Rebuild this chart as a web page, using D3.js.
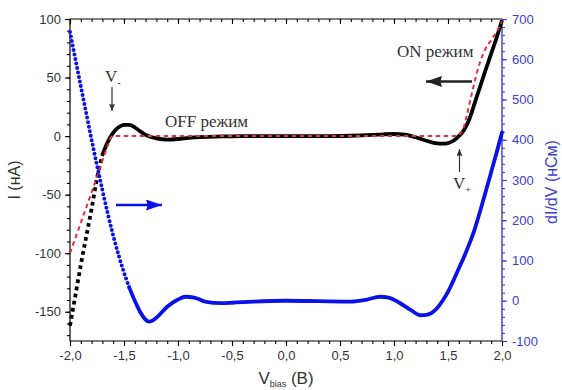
<!DOCTYPE html>
<html><head><meta charset="utf-8">
<script src="https://cdn.jsdelivr.net/npm/d3@7"></script>
<style>body{margin:0;background:#fff}svg{display:block}</style>
</head><body>
<script>
// ---- data ----
const biasV = [-2.0,-1.95,-1.9,-1.85,-1.8,-1.75,-1.7,-1.65,-1.6,-1.55,-1.5,-1.45,-1.4,-1.35,-1.3,-1.2,-1.1,-1.0,-0.9,-0.8,-0.6,-0.4,0,0.4,0.6,0.8,0.9,1.0,1.1,1.2,1.3,1.4,1.45,1.5,1.55,1.6,1.65,1.7,1.75,1.8,1.85,1.9,1.95,2.0];
const currentI = [-162,-136,-110,-86,-62,-36,-16,-5,3,7.5,9.5,9.5,7.5,4,1,-2,-3,-2.5,-1.5,-0.8,-0.3,0,0,0,0.3,1,1.5,1.8,1.2,-1,-4,-6.3,-6.5,-6,-4,0,5.5,15,29,43,57,70.5,84,99];

const idealV = [-2.0,-1.9,-1.8,-1.7,-1.65,-1.62,-1.6,0,1.58,1.61,1.64,1.67,1.7,1.735,1.77,1.8,1.85,1.9,1.95,2.0];
const idealI = [-100,-74,-48,-21,-8,-1,0,0,0,1.5,6,16,28,42,55,64,75,82,89,98];

const condV = [-2.0,-1.95,-1.9,-1.85,-1.8,-1.75,-1.7,-1.65,-1.6,-1.55,-1.5,-1.45,-1.4,-1.35,-1.3,-1.27,-1.25,-1.2,-1.1,-1.0,-0.93,-0.85,-0.75,-0.6,-0.5,-0.3,0,0.3,0.6,0.75,0.87,0.95,1.05,1.15,1.25,1.3,1.35,1.4,1.45,1.5,1.55,1.6,1.65,1.7,1.75,1.8,1.85,1.9,1.95,2.0];
const condG = [668,600,533,466,400,336,275,216,162,113,70,32,0,-28,-47,-52,-51,-42,-15,3,10,8,-2,-6,-5,-2,0,-1,-2,3,10,8,-5,-22,-36,-35,-30,-18,0,22,50,80,110,143,180,225,272,320,368,418];

const xTicks = [-2,-1.5,-1,-0.5,0,0.5,1,1.5,2];
const yLeftTicks = [-150,-100,-50,0,50,100];
const yRightTicks = [-100,0,100,200,300,400,500,600,700];

// ---- layout ----
const W = 562, H = 390;
const L = 70, R = 502, T = 19, B = 341;
const svg = d3.select("body").append("svg").attr("width", W).attr("height", H);

const x = d3.scaleLinear().domain([-2, 2]).range([L, R]);
const yL = d3.scaleLinear().domain([-175, 100]).range([B, T]);
const yR = d3.scaleLinear().domain([-100, 700]).range([B, T]);

const fmtX = d => (d < 0 ? "-" : "") + Math.abs(d).toFixed(1).replace(".", ",");
const fmtY = d => (d < 0 ? "-" : "") + Math.abs(d);
const font = "Liberation Sans, Arial, sans-serif";
const textCol = "#333";
const axisBlue = "#3b3bd0";
const dataBlue = "#0b12e8";

function styleAxis(g, col) {
  g.select(".domain").remove();
  g.selectAll("line").attr("stroke", col).attr("stroke-width", 1.1);
  g.selectAll("text").attr("font-family", font).attr("font-size", 13).attr("fill", col === "#000" ? textCol : col);
}
const minorX = d3.range(-2, 2.0001, 0.1).map(v => +v.toFixed(2));
// bottom
svg.append("g").attr("transform", `translate(0,${B})`)
  .call(d3.axisBottom(x).tickValues(minorX).tickSize(3).tickFormat(""))
  .call(g => styleAxis(g, "#000"));
svg.append("g").attr("transform", `translate(0,${B})`)
  .call(d3.axisBottom(x).tickValues(xTicks).tickSize(5).tickPadding(5).tickFormat(fmtX))
  .call(g => styleAxis(g, "#000"));
// top (inward)
svg.append("g").attr("transform", `translate(0,${T})`)
  .call(d3.axisBottom(x).tickValues(minorX).tickSize(3).tickFormat(""))
  .call(g => styleAxis(g, "#000"));
svg.append("g").attr("transform", `translate(0,${T})`)
  .call(d3.axisBottom(x).tickValues(xTicks).tickSize(5).tickFormat(""))
  .call(g => styleAxis(g, "#000"));
// left
const minorL = d3.range(-170, 101, 10);
svg.append("g").attr("transform", `translate(${L},0)`)
  .call(d3.axisLeft(yL).tickValues(minorL).tickSize(3).tickFormat(""))
  .call(g => styleAxis(g, "#000"));
svg.append("g").attr("transform", `translate(${L},0)`)
  .call(d3.axisLeft(yL).tickValues(yLeftTicks).tickSize(5).tickPadding(4).tickFormat(fmtY))
  .call(g => styleAxis(g, "#000"));
// right
const minorR = d3.range(-100, 701, 20);
svg.append("g").attr("transform", `translate(${R},0)`)
  .call(d3.axisRight(yR).tickValues(minorR).tickSize(3).tickFormat(""))
  .call(g => styleAxis(g, axisBlue));
svg.append("g").attr("transform", `translate(${R},0)`)
  .call(d3.axisRight(yR).tickValues(yRightTicks).tickSize(5).tickPadding(5).tickFormat(fmtY))
  .call(g => styleAxis(g, axisBlue));

// frame lines
svg.append("line").attr("x1", L).attr("x2", R).attr("y1", B).attr("y2", B).attr("stroke", "#000").attr("stroke-width", 1.2);
svg.append("line").attr("x1", L).attr("x2", R).attr("y1", T).attr("y2", T).attr("stroke", "#000").attr("stroke-width", 1.2);
svg.append("line").attr("x1", L).attr("x2", L).attr("y1", T).attr("y2", B).attr("stroke", "#000").attr("stroke-width", 1.2);
svg.append("line").attr("x1", R).attr("x2", R).attr("y1", T).attr("y2", B).attr("stroke", axisBlue).attr("stroke-width", 1.4);

// ---- data lines ----
const plot = svg.append("g");
const blackPts = biasV.map((v, i) => [v, currentI[i]]);
const redPts = idealV.map((v, i) => [v, idealI[i]]);
const bluePts = condV.map((v, i) => [v, condG[i]]);
const lineL = d3.line().x(d => x(d[0])).y(d => yL(d[1])).curve(d3.curveMonotoneX);
const lineR = d3.line().x(d => x(d[0])).y(d => yR(d[1])).curve(d3.curveMonotoneX);

// black: dotted squares on steep left part, solid elsewhere
plot.append("path").datum(blackPts.filter(d => d[0] <= -1.7))
  .attr("d", lineL).attr("fill", "none").attr("stroke", "#000")
  .attr("stroke-width", 3.8).attr("stroke-dasharray", "3.8,3.4");
plot.append("path").datum(blackPts.filter(d => d[0] >= -1.7))
  .attr("d", lineL).attr("fill", "none").attr("stroke", "#000")
  .attr("stroke-width", 3.8).attr("stroke-linejoin", "round");
// red ideal dashed
plot.append("path").datum(redPts)
  .attr("d", lineL).attr("fill", "none").attr("stroke", "#e0303a")
  .attr("stroke-width", 2).attr("stroke-dasharray", "4.5,3.5");
// blue
plot.append("path").datum(bluePts.filter(d => d[0] <= -1.45))
  .attr("d", lineR).attr("fill", "none").attr("stroke", dataBlue)
  .attr("stroke-width", 4).attr("stroke-linecap", "round").attr("stroke-dasharray", "0,4.6");
plot.append("path").datum(bluePts.filter(d => d[0] >= -1.45))
  .attr("d", lineR).attr("fill", "none").attr("stroke", dataBlue)
  .attr("stroke-width", 3.8).attr("stroke-linejoin", "round").attr("stroke-linecap", "round");

// ---- arrows ----
const defs = svg.append("defs");
function marker(id, col, w, h) {
  defs.append("marker").attr("id", id).attr("viewBox", `0 0 ${w} ${h}`)
    .attr("refX", w).attr("refY", h / 2).attr("markerWidth", w).attr("markerHeight", h)
    .attr("markerUnits", "userSpaceOnUse").attr("orient", "auto")
    .append("path").attr("d", `M0,0L${w},${h / 2}L0,${h}L${w * 0.1},${h / 2}Z`).attr("fill", col);
}
marker("headBlack", "#222", 16, 11);
marker("headBlue", dataBlue, 16, 11);
marker("headThin", "#333", 7, 6);

function arrow(x1, y1, x2, y2, col, sw, m) {
  svg.append("line").attr("x1", x1).attr("y1", y1).attr("x2", x2).attr("y2", y2)
    .attr("stroke", col).attr("stroke-width", sw).attr("marker-end", `url(#${m})`);
}
arrow(472, 81.5, 426, 81.5, "#222", 2.6, "headBlack");
arrow(116, 205, 162, 205, dataBlue, 2.6, "headBlue");
arrow(112, 87, 112, 111, "#333", 1.2, "headThin");
arrow(459.5, 172, 459.5, 149, "#333", 1.2, "headThin");

// ---- annotations ----
const serif = "Liberation Serif, Times New Roman, serif";
function subLabel(xp, yp, main, sub, size, subSize, family, col, dy) {
  const t = svg.append("text").attr("x", xp).attr("y", yp).attr("font-family", family)
    .attr("font-size", size).attr("fill", col);
  t.append("tspan").text(main);
  t.append("tspan").attr("font-size", subSize).attr("dy", dy).text(sub);
  return t;
}
subLabel(105, 82, "V", "-", 17, 10, serif, textCol, 4);
subLabel(453, 189, "V", "+", 17, 10, serif, textCol, 4);
svg.append("text").attr("x", 165).attr("y", 127).attr("font-family", serif)
  .attr("font-size", 17).attr("fill", textCol).text("OFF режим");
svg.append("text").attr("x", 397).attr("y", 57).attr("font-family", serif)
  .attr("font-size", 17).attr("fill", textCol).text("ON режим");

// axis titles
svg.append("text").attr("transform", "translate(20,180) rotate(-90)").attr("text-anchor", "middle")
  .attr("font-family", font).attr("font-size", 16).attr("fill", textCol).text("I (нА)");
svg.append("text").attr("transform", "translate(557,182) rotate(-90)").attr("text-anchor", "middle")
  .attr("font-family", font).attr("font-size", 16).attr("fill", axisBlue).text("dI/dV (нСм)");
const xt = svg.append("text").attr("x", 286).attr("y", 384).attr("text-anchor", "middle")
  .attr("font-family", font).attr("font-size", 17).attr("fill", textCol);
xt.append("tspan").text("V");
xt.append("tspan").attr("font-size", 9).attr("dy", 3).text("bias");
xt.append("tspan").attr("dy", -3).text(" (B)");
</script>
</body></html>
